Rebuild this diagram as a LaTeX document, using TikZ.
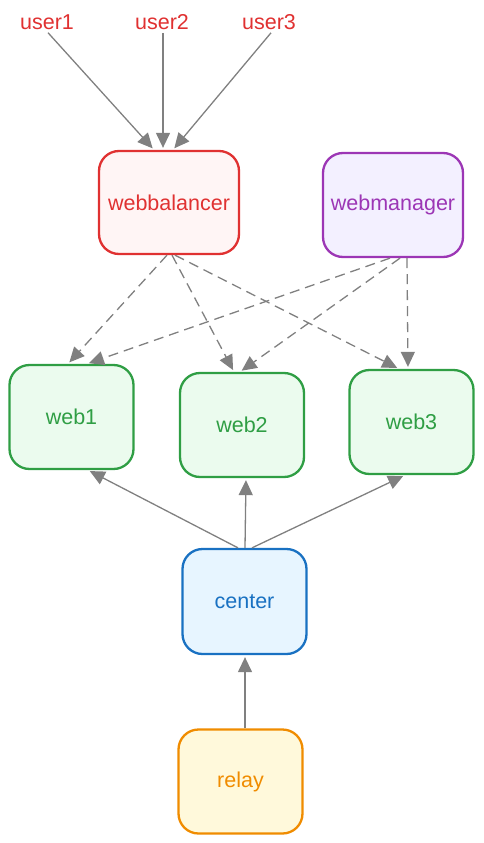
\documentclass[tikz,border=0pt]{standalone}
\usepackage{fontspec}
\setmainfont{Liberation Sans}
\usetikzlibrary{arrows.meta}
\definecolor{cred}{HTML}{E03131}
\definecolor{fred}{HTML}{FFF5F5}
\definecolor{cpur}{HTML}{9C36B5}
\definecolor{fpur}{HTML}{F3F0FF}
\definecolor{cgrn}{HTML}{2F9E44}
\definecolor{fgrn}{HTML}{EBFBEE}
\definecolor{cblu}{HTML}{1971C2}
\definecolor{fblu}{HTML}{E7F5FF}
\definecolor{corg}{HTML}{F08C00}
\definecolor{forg}{HTML}{FFF9DB}
\definecolor{cgray}{HTML}{808080}
\begin{document}
\begin{tikzpicture}[x=1pt,y=-1pt,
  every node/.style={font=\fontsize{21.5}{25}\selectfont},
  box/.style={draw, rounded corners=20pt, line width=2.3pt, inner sep=0pt},
  wbox/.style={box, minimum width=124pt, minimum height=104pt},
  conn/.style={draw=cgray, line width=1.3pt, -{Triangle[length=15pt,width=14pt]}, shorten >=2pt},
  dconn/.style={conn, dash pattern=on 10pt off 6pt}]
\useasboundingbox (0,0) rectangle (484,843);
% users
\node[text=cred, inner sep=0pt] (u1) at (47,22) {user1};
\node[text=cred, inner sep=0pt] (u2) at (162,22) {user2};
\node[text=cred, inner sep=0pt] (u3) at (269,22) {user3};
% boxes
\node[box, draw=cred, fill=fred, text=cred, minimum width=140pt, minimum height=103pt] (wb) at (169,202.5) {webbalancer};
\node[box, draw=cpur, fill=fpur, text=cpur, minimum width=140pt, minimum height=104pt] (wm) at (393,205) {webmanager};
\node[wbox, draw=cgrn, fill=fgrn, text=cgrn] (w1) at (71.5,417) {web1};
\node[wbox, draw=cgrn, fill=fgrn, text=cgrn] (w2) at (242,425) {web2};
\node[wbox, draw=cgrn, fill=fgrn, text=cgrn] (w3) at (411.5,422) {web3};
\node[wbox, draw=cblu, fill=fblu, text=cblu, minimum height=105pt] (ce) at (244.5,601.5) {center};
\node[wbox, draw=corg, fill=forg, text=corg] (re) at (240.5,781.5) {relay};
% user arrows
\draw[conn] ([xshift=1pt,yshift=-3pt]u1.south) -- ([xshift=-15pt]wb.north);
\draw[conn] ([xshift=1pt,yshift=-3pt]u2.south) -- ([xshift=-6pt]wb.north);
\draw[conn] ([xshift=2pt,yshift=-3pt]u3.south) -- ([xshift=4pt]wb.north);
% dashed from webbalancer
\draw[dconn] ([xshift=-2pt]wb.south) -- ([xshift=-3.5pt]w1.north);
\draw[dconn] ([xshift=3pt]wb.south) -- ([xshift=-8pt]w2.north);
\draw[dconn] ([xshift=6pt]wb.south) -- ([xshift=-12.5pt]w3.north);
% dashed from webmanager
\draw[dconn] ([xshift=-3pt]wm.south) -- ([xshift=15.5pt]w1.north);
\draw[dconn] ([xshift=7pt]wm.south) -- ([xshift=-2pt]w2.north);
\draw[dconn] ([xshift=14pt]wm.south) -- ([xshift=-3.5pt]w3.north);
% center to webs
\draw[conn] ([xshift=-6.5pt]ce.north) -- ([xshift=16.5pt]w1.south);
\draw[conn] ([xshift=0.5pt]ce.north) -- ([xshift=4pt]w2.south);
\draw[conn] ([xshift=7.5pt]ce.north) -- ([xshift=-6.5pt]w3.south);
% relay to center
\draw[conn] ([xshift=4.5pt]re.north) -- ([xshift=0.5pt]ce.south);
\end{tikzpicture}
\end{document}
